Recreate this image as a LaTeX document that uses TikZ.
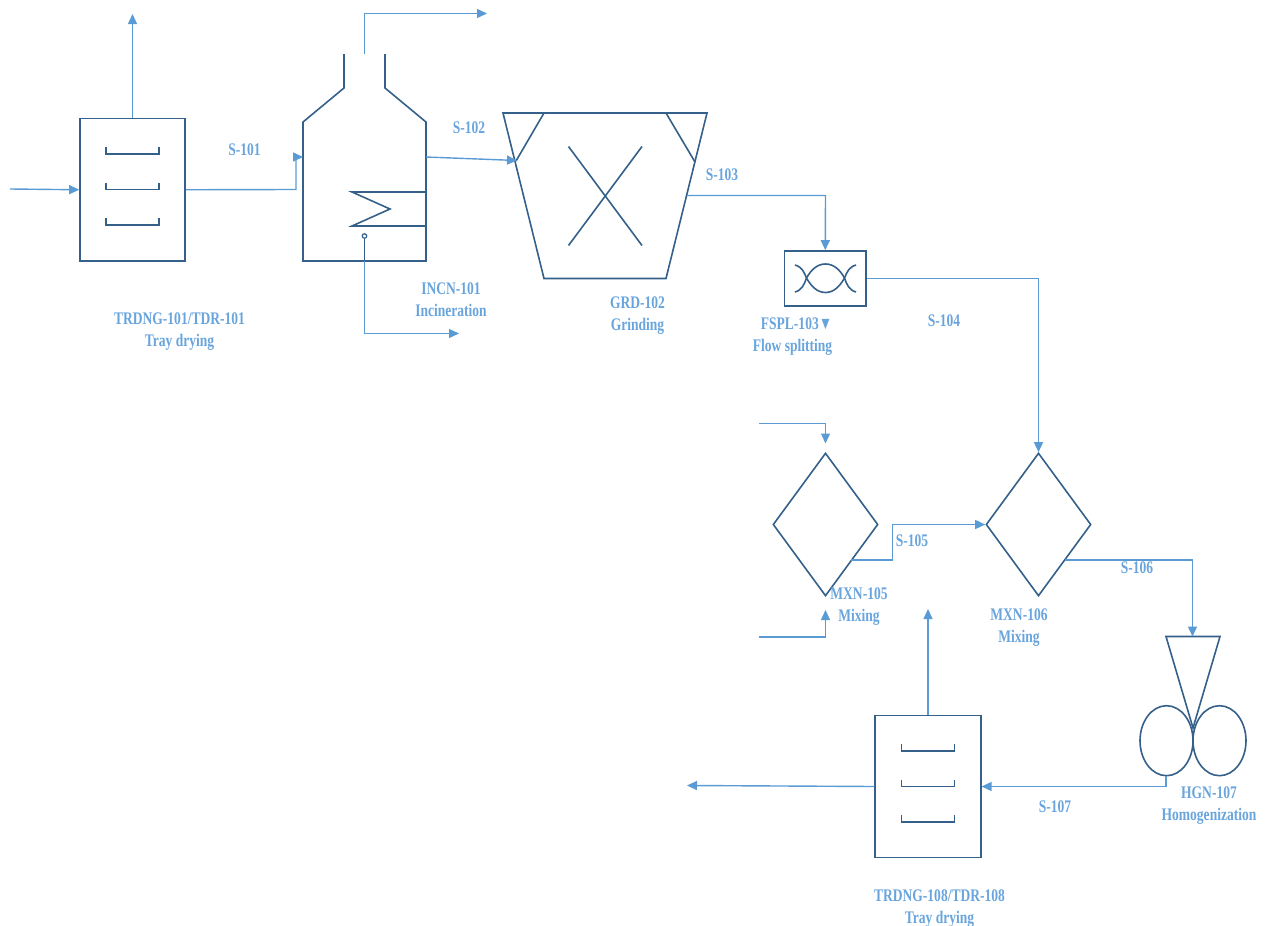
\documentclass[tikz,border=0pt]{standalone}
\usepackage{fontspec}
\setmainfont[FakeStretch=0.765]{Liberation Serif}
\usetikzlibrary{arrows.meta,shapes.geometric}
\definecolor{equip}{HTML}{34608A}
\definecolor{stream}{HTML}{5B9BD5}
\definecolor{lbl}{HTML}{69A5DC}
\tikzset{
  x=1pt,y=-1pt,
  equipline/.style={draw=equip,line width=1.6pt,line join=miter},
  box/.style={equipline,rectangle,inner sep=0pt},
  mixer/.style={equipline,diamond,inner sep=0pt,minimum width=105pt,minimum height=143pt},
  flow/.style={draw=stream,line width=1.4pt,-{Triangle[length=10pt,width=9pt]}},
  lab/.style={text=lbl,font=\fontsize{17.7}{22}\selectfont\bfseries,inner sep=0pt,align=center},
}
\newcommand{\traypan}[2]{\draw[equipline] (#1-26.5,#2-7) -- (#1-26.5,#2) -- (#1+26.5,#2) -- (#1+26.5,#2-7);}
\begin{document}
\begin{tikzpicture}
\useasboundingbox (0,0) rectangle (1267,926);
% tray dryer 1
\node[box,minimum width=105pt,minimum height=142.5pt] (dry1) at (132.5,189.75) {};
\traypan{132.5}{154}\traypan{132.5}{189.5}\traypan{132.5}{225}
\coordinate (feed1) at (10,189);
\coordinate (vent1) at (132.5,14);
\draw[flow] (feed1) -- (dry1.west);
\draw[flow] (dry1.north) -- (vent1);
% incinerator
\coordinate (incA) at (303,261);
\coordinate (incIn) at (303,157);
\coordinate (incOut) at (426,157);
\coordinate (incStack) at (364.5,54);
\coordinate (incBot) at (364.5,261);
\draw[equipline] (344,54) -- (344,88) -- (303,122) -- (incA) -- (426,261) -- (426,122) -- (385,88) -- (385,54);
\draw[equipline] (426,192) -- (352,192) -- (390,209) -- (352,226) -- (426,226);
\node[draw=equip,line width=1.2pt,circle,fill=white,inner sep=0pt,minimum size=4.5pt] (drain) at (364.5,236) {};
\draw[equipline] (drain) -- (incBot);
\coordinate (incFlueEnd) at (487,13.5);
\coordinate (incAshEnd) at (459,333.5);
\draw[flow] (dry1.east) -- (296,189.5) -- (296,157) -- (incIn);
\draw[flow] (incStack) -- (364.5,13.5) -- (incFlueEnd);
\draw[flow] (incBot) -- (364.5,333.5) -- (incAshEnd);
% grinder
\coordinate (grdIn) at (517,160.5);
\coordinate (grdOut) at (687,195.5);
\draw[equipline] (503,113) -- (707,113) -- (666,278.5) -- (544,278.5) -- cycle;
\draw[equipline] (544,113) -- (516,161);
\draw[equipline] (666,113) -- (695,162);
\draw[equipline] (568.5,146.5) -- (642,245.5);
\draw[equipline] (642,146.5) -- (568.5,245.5);
\draw[flow] (incOut) -- (grdIn);
% flow splitter
\node[box,minimum width=81.5pt,minimum height=55pt] (fspl) at (825.25,278.5) {};
\draw[equipline] (795,265) .. controls (802,267) and (804,272) .. (806.5,278)
   .. controls (811,286) and (817,292.5) .. (825.5,292.5)
   .. controls (834,292.5) and (840,286) .. (844.5,278)
   .. controls (847,272) and (849,267) .. (856,265);
\draw[equipline] (795,292) .. controls (802,290) and (804,285) .. (806.5,278)
   .. controls (811,270) and (817,264) .. (825.5,264)
   .. controls (834,264) and (840,270) .. (844.5,278)
   .. controls (847,285) and (849,290) .. (856,292);
\draw[flow] (grdOut) -- (825.5,195.5) -- (fspl.north);
% mixers
\node[mixer] (mxa) at (825.5,524.5) {};
\node[mixer] (mxb) at (1038.5,524.5) {};
\coordinate (mxaOut) at (851,560);
\coordinate (mxbOut) at (1065,560);
\coordinate (feedA) at (759,423.5);
\coordinate (feedAend) at (825.5,443.5);
\coordinate (feedB) at (759,637);
\coordinate (feedBend) at (825.5,610);
\draw[flow] (fspl.east) -- (1038.5,278.5) -- (mxb.north);
\draw[flow] (feedA) -- (825.5,423.5) -- (feedAend);
\draw[flow] (feedB) -- (825.5,637) -- (feedBend);
\draw[flow] (mxaOut) -- (892.5,560) -- (892.5,524.5) -- (mxb.west);
% homogenizer
\coordinate (hopTop) at (1192.5,636.5);
\coordinate (hopOut) at (1166,776);
\draw[equipline] (1166,636.5) -- (1220,636.5) -- (1193,728) -- cycle;
\draw[equipline] (1166.5,740.7) ellipse [x radius=26.5pt,y radius=35pt];
\draw[equipline] (1219.5,740.7) ellipse [x radius=26.5pt,y radius=35pt];
\draw[flow] (mxbOut) -- (1192.5,560) -- (hopTop);
% tray dryer 2
\node[box,minimum width=105.5pt,minimum height=142pt] (dry2) at (928,786.5) {};
\traypan{928}{751}\traypan{928}{786.5}\traypan{928}{822}
\coordinate (vent2) at (928,609);
\coordinate (prod) at (687,785.5);
\draw[flow] (dry2.north) -- (vent2);
\draw[flow] (dry2.west) -- (prod);
\draw[flow] (hopOut) -- (1166,786.5) -- (dry2.east);
% labels
\node[lab] (s101) at (244.5,150) {S-101};
\node[lab] (s102) at (469,128) {S-102};
\node[lab] (s103) at (722,175) {S-103};
\node[lab] (s104) at (944,321) {S-104};
\node[lab] (s105) at (912,541) {S-105};
\node[lab] (s106) at (1137,568) {S-106};
\node[lab] (s107) at (1055,807) {S-107};
\node[lab] (l1) at (179.5,332) {TRDNG-101/TDR-101\\Tray drying};
\node[lab] (l2) at (451,300) {INCN-101\\Incineration};
\node[lab] (l3) at (637.5,316) {GRD-102\\Grinding};
\node[lab,align=right] (l4) at (792.5,337) {FSPL-103▼\\Flow splitting};
\node[lab] (l5) at (859,607) {MXN-105\\Mixing};
\node[lab] (l6) at (1019,628) {MXN-106\\Mixing};
\node[lab] (l7) at (1209,806) {HGN-107\\Homogenization};
\node[lab] (l8) at (939.5,909) {TRDNG-108/TDR-108\\Tray drying};
\end{tikzpicture}
\end{document}
